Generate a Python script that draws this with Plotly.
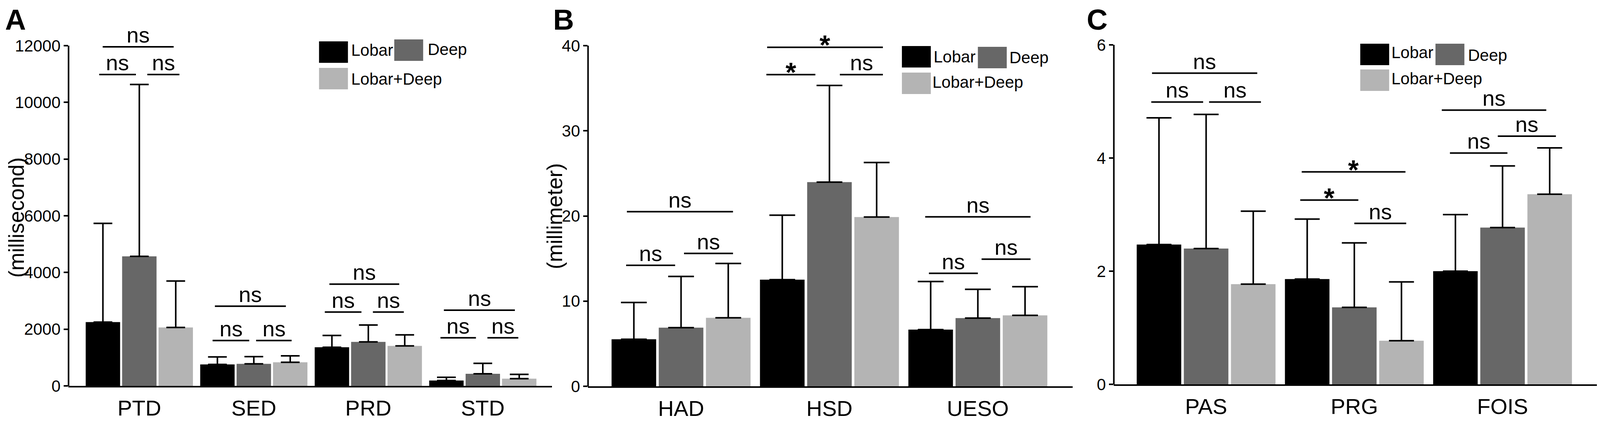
import plotly.graph_objects as go

# the page is shown in a 4096 px wide window with an 8 px body margin;
REF_W = 4318
VIEW_W = 4096
OFF = 8
SX = VIEW_W / REF_W
FW, FH = VIEW_W - OFF, 1079 - OFF

NARROW = "Liberation Sans Narrow, Arial Narrow, Liberation Sans, Arial, sans-serif"
REG = "Liberation Sans, Arial, Helvetica, sans-serif"

groups = ["Lobar", "Deep", "Lobar+Deep"]
colors = ["#000000", "#676767", "#b4b4b4"]

# panel A (millisecond)
cats_a = ["PTD", "SED", "PRD", "STD"]
mean_a = {
    "Lobar": [2250, 757, 1362, 189],
    "Deep": [4570, 776, 1552, 426],
    "Lobar+Deep": [2060, 833, 1410, 255],
}
sd_a = {
    "Lobar": [3480, 265, 417, 114],
    "Deep": [6060, 255, 596, 369],
    "Lobar+Deep": [1640, 227, 388, 152],
}
yticks_a = [0, 2000, 4000, 6000, 8000, 10000, 12000]

# panel B (millimeter)
cats_b = ["HAD", "HSD", "UESO"]
mean_b = {
    "Lobar": [5.52, 12.52, 6.66],
    "Deep": [6.88, 23.97, 8.01],
    "Lobar+Deep": [8.04, 19.87, 8.33],
}
sd_b = {
    "Lobar": [4.32, 7.57, 5.64],
    "Deep": [6.02, 11.36, 3.38],
    "Lobar+Deep": [6.38, 6.41, 3.37],
}
yticks_b = [0, 10, 20, 30, 40]

# panel C
cats_c = ["PAS", "PRG", "FOIS"]
mean_c = {
    "Lobar": [2.47, 1.86, 2.00],
    "Deep": [2.40, 1.36, 2.77],
    "Lobar+Deep": [1.77, 0.77, 3.36],
}
sd_c = {
    "Lobar": [2.24, 1.06, 1.00],
    "Deep": [2.37, 1.14, 1.09],
    "Lobar+Deep": [1.29, 1.04, 0.82],
}
yticks_c = [0, 2, 4, 6]

# significance brackets: (category, left offset, right offset, height, label)
sig_a = [
    (0, -0.32, 0.30, 11960, "ns"), (0, -0.35, -0.03, 10980, "ns"), (0, 0.07, 0.35, 10980, "ns"),
    (1, -0.34, 0.28, 2810, "ns"), (1, -0.36, -0.04, 1600, "ns"), (1, 0.02, 0.33, 1600, "ns"),
    (2, -0.34, 0.27, 3590, "ns"), (2, -0.38, -0.06, 2605, "ns"), (2, 0.04, 0.31, 2605, "ns"),
    (3, -0.34, 0.28, 2670, "ns"), (3, -0.37, -0.06, 1695, "ns"), (3, 0.04, 0.31, 1695, "ns"),
]
sig_b = [
    (0, -0.365, 0.35, 20.5, "ns"), (0, -0.37, -0.04, 14.2, "ns"), (0, 0.02, 0.35, 15.6, "ns"),
    (1, -0.42, 0.36, 39.8, "*"), (1, -0.425, -0.095, 36.6, "*"), (1, 0.07, 0.36, 36.6, "ns"),
    (2, -0.355, 0.355, 19.9, "ns"), (2, -0.33, 0.0, 13.26, "ns"), (2, 0.025, 0.355, 14.93, "ns"),
]
sig_c = [
    (0, -0.365, 0.345, 5.5, "ns"), (0, -0.37, -0.02, 4.99, "ns"), (0, 0.02, 0.37, 4.99, "ns"),
    (1, -0.355, 0.345, 3.755, "*"), (1, -0.365, 0.027, 3.257, "*"), (1, 0.0, 0.35, 2.844, "ns"),
    (2, -0.41, 0.295, 4.847, "ns"), (2, -0.355, 0.033, 4.088, "ns"), (2, -0.032, 0.36, 4.387, "ns"),
]

# reference pixels: axis left/right, baseline, top tick, centre of first category, category step
panels = [
    dict(cats=cats_a, mean=mean_a, sd=sd_a, ticks=yticks_a, sig=sig_a, left=185, right=1490,
         base=989, top=117, c0=376, step=309, cap=25, label="A", lx=13,
         title="(millisecond)", tx=44, ty=557,
         leg=[(861, 106, 946, 128), (1064, 101, 1152, 126), (861, 174, 946, 202)]),
    dict(cats=cats_b, mean=mean_b, sd=sd_b, ticks=yticks_b, sig=sig_b, left=1587, right=2895,
         base=990, top=117, c0=1838, step=400.5, cap=35, label="B", lx=1492,
         title="(millimeter)", tx=1497, ty=554,
         leg=[(2434, 118, 2517, 145), (2639, 120, 2722, 148), (2434, 186, 2514, 210)]),
    dict(cats=cats_c, mean=mean_c, sd=sd_c, ticks=yticks_c, sig=sig_c, left=3006, right=4318,
         base=985, top=115, c0=3255, step=400, cap=34, label="C", lx=2932,
         title=None, tx=0, ty=0,
         leg=[(3671, 112, 3753, 134), (3874, 112, 3960, 141), (3671, 178, 3753, 201)]),
]


def px(x):
    return (x * SX - OFF) / FW


def py(y):
    return 1 - (y - OFF) / FH


fig = go.Figure()
shapes = []
annos = []

for k, p in enumerate(panels):
    n = "" if k == 0 else str(k + 1)
    xa, ya = "x" + n, "y" + n
    xs = list(range(len(p["cats"])))
    for g, c in zip(groups, colors):
        fig.add_trace(go.Bar(
            x=xs, y=p["mean"][g], name=g, marker_color=c, marker_line_width=0,
            error_y=dict(type="data", symmetric=False, array=p["sd"][g],
                         arrayminus=[0] * len(xs), color="black", thickness=4,
                         width=round(p["cap"] * SX)),
            xaxis=xa, yaxis=ya, showlegend=False,
        ))
    ymax = p["ticks"][-1]
    ytop = ymax * (p["base"] - OFF) / (p["base"] - p["top"])
    x0 = (p["left"] - p["c0"]) / p["step"]
    x1 = (p["right"] - p["c0"]) / p["step"]
    fig.update_layout(**{
        "xaxis" + n: dict(domain=[px(p["left"]), min(1, px(p["right"]))], range=[x0, x1],
                          tickvals=xs, ticktext=p["cats"], ticks="", showline=True,
                          linewidth=4, linecolor="black", showgrid=False, zeroline=False,
                          ticklabelstandoff=5,
                          tickfont=dict(family=NARROW, size=56, color="black"), anchor=ya,
                          fixedrange=True, automargin=False),
        "yaxis" + n: dict(domain=[py(p["base"]), 1], range=[0, ytop], tickvals=p["ticks"],
                          ticktext=[str(t) for t in p["ticks"]],
                          ticks="outside", ticklen=11, tickwidth=4, tickcolor="black",
                          showline=False, showgrid=False, zeroline=False,
                          tickfont=dict(family=NARROW, size=42, color="black"), anchor=xa,
                          fixedrange=True, automargin=False),
    })
    # y spine up to the top tick
    shapes.append(dict(type="line", xref=xa + " domain", yref=ya, x0=0, x1=0, y0=0, y1=ymax,
                       line=dict(color="black", width=4)))
    for i, a, b, yv, lab in p["sig"]:
        shapes.append(dict(type="line", xref=xa, yref=ya, x0=i + a, x1=i + b, y0=yv, y1=yv,
                           line=dict(color="black", width=4)))
        if lab == "*":
            annos.append(dict(xref=xa, yref=ya, x=i + (a + b) / 2, y=yv, text="<b>*</b>",
                              showarrow=False, yanchor="bottom", yshift=-36,
                              font=dict(family=REG, size=70, color="black")))
        else:
            annos.append(dict(xref=xa, yref=ya, x=i + (a + b) / 2, y=yv, text=lab,
                              showarrow=False, yanchor="bottom", yshift=-3,
                              font=dict(family=NARROW, size=56, color="black")))
    # legend boxes
    for (sx, sy, tx, ty), g, c in zip(p["leg"], groups, colors):
        shapes.append(dict(type="rect", xref="paper", yref="paper", x0=px(sx), x1=px(sx + 78),
                           y0=py(sy), y1=py(sy + 55), fillcolor=c, line=dict(width=0)))
        annos.append(dict(xref="paper", yref="paper", x=px(tx), y=py(ty), text=g,
                          showarrow=False, xanchor="left", yanchor="middle",
                          font=dict(family=NARROW, size=42, color="black")))
    # panel letter, kept just inside the top edge
    annos.append(dict(xref="paper", yref="paper", x=px(p["lx"]), y=1, borderpad=0,
                      text="<b>" + p["label"] + "</b>", showarrow=False,
                      xanchor="left", yanchor="top",
                      font=dict(family=REG, size=74, color="black")))
    if p["title"]:
        annos.append(dict(xref="paper", yref="paper", x=px(p["tx"]), y=py(p["ty"]), text=p["title"],
                          showarrow=False, textangle=-90, xanchor="center", yanchor="middle",
                          borderpad=0, font=dict(family=REG, size=55, color="black")))

fig.update_layout(
    width=FW, height=FH, margin=dict(l=0, r=0, t=0, b=0, autoexpand=False),
    paper_bgcolor="white", plot_bgcolor="white",
    barmode="group", bargap=0.046, bargroupgap=0.055,
    font=dict(family=NARROW, color="black"),
    shapes=shapes, annotations=annos, showlegend=False,
)

fig.write_html("out.html")
